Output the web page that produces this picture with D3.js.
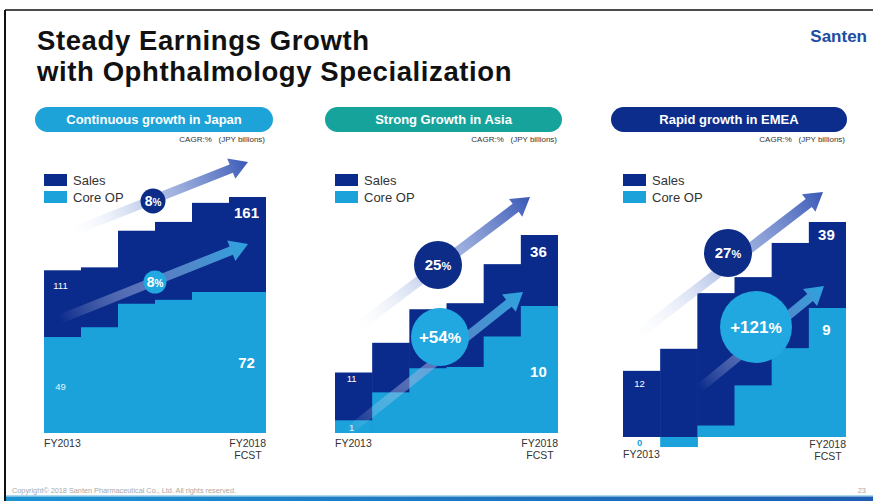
<!DOCTYPE html>
<html>
<head>
<meta charset="utf-8">
<script src="https://cdn.jsdelivr.net/npm/d3@7"></script>
<style>
    body { margin: 0; background: #fff; }
    svg { display: block; font-family: "Liberation Sans", Arial, sans-serif; }
</style>
</head>
<body>
<svg id="chart" width="873" height="501"></svg>
<script>
(function () {
    // data (JPY billions)
    const years = ["FY2013", "FY2014", "FY2015", "FY2016", "FY2017", "FY2018"];
    const panelTitles = ["Continuous growth in Japan", "Strong Growth in Asia", "Rapid growth in EMEA"];

    const salesJapan = [111, 113, 138, 144, 157, 161];
    const coreJapan = [49, 54, 66, 68, 72, 72];
    const salesAsia = [11, 16.4, 22.5, 23.6, 30.7, 36];
    const coreAsia = [1, 3.2, 5.1, 5.2, 7.6, 10];
    const salesEmea = [12, 16, 26.1, 29, 35.2, 39];
    const coreEmea = [0, -0.7, 0.8, 3.6, 6.2, 9];

    const salesCagr = ["8", "25", "27"];
    const coreCagr = ["8", "+54", "+121"];

    const COLORS = {
        sales: "#0b2b8c",
        core: "#1ba2da",
        salesArrow: "#3a59b6",
        coreArrow: "#2ba3de",
        salesCircle: "#0c2c88",
        coreCircle: "#22a8e0",
        text: "#333333"
    };

    const svg = d3.select("#chart");
    const defs = svg.append("defs");

    // frame
    svg.append("line").attr("x1", 5).attr("x2", 873).attr("y1", 10).attr("y2", 10)
        .attr("stroke", "#111").attr("stroke-width", 1.5);
    svg.append("line").attr("x1", 5).attr("x2", 5).attr("y1", 10).attr("y2", 501)
        .attr("stroke", "#111").attr("stroke-width", 2);

    // title
    const title = svg.append("text").attr("x", 37).attr("font-size", 27.5)
        .attr("letter-spacing", 0.6).attr("font-weight", "bold").attr("fill", "#111");
    title.append("tspan").attr("x", 37).attr("y", 50).text("Steady Earnings Growth");
    title.append("tspan").attr("x", 37).attr("y", 81).text("with Ophthalmology Specialization");

    // logo
    svg.append("text").attr("x", 867).attr("y", 42).attr("text-anchor", "end")
        .attr("font-family", "'Liberation Sans Narrow', 'Liberation Sans', sans-serif")
        .attr("font-weight", "bold").attr("font-size", 17).attr("fill", "#1c4d9f")
        .text("Santen");

    const panels = [
        {
            title: panelTitles[0], sales: salesJapan, core: coreJapan,
            salesCagr: salesCagr[0], coreCagr: coreCagr[0], pill: "#1ea3d8",
            pillX: [35, 273], x0: 44, x1: 266, base: 433, salesTop: 197, coreTop: 292,
            labelY: { salesFirst: 289, salesLast: 218, coreFirst: 390, coreLast: 368 },
            axisY: { first: 447, last: 447 },
            salesArrow: { from: [66, 234], to: [248, 162], w: 9 },
            coreArrow: { from: [60, 319], to: [248, 244], w: 9 },
            salesCircle: { c: [153, 201], r: 12.5, big: 14, small: 10 },
            coreCircle: { c: [155, 282], r: 11.5, big: 14, small: 10 },
            legendX: 44
        },
        {
            title: panelTitles[1], sales: salesAsia, core: coreAsia,
            salesCagr: salesCagr[1], coreCagr: coreCagr[1], pill: "#16a39c",
            pillX: [325, 562], x0: 335, x1: 558, base: 433, salesTop: 235, coreTop: 306,
            labelY: { salesFirst: 382, salesLast: 257, coreFirst: 431, coreLast: 377 },
            axisY: { first: 447, last: 447 },
            salesArrow: { from: [350, 333], to: [530, 197], w: 10 },
            coreArrow: { from: [346, 433], to: [523, 292], w: 9 },
            salesCircle: { c: [438, 265], r: 24, big: 15, small: 11 },
            coreCircle: { c: [440, 337], r: 29, big: 17, small: 15 },
            legendX: 335
        },
        {
            title: panelTitles[2], sales: salesEmea, core: coreEmea,
            salesCagr: salesCagr[2], coreCagr: coreCagr[2], pill: "#0c2d8c",
            pillX: [611, 847], x0: 623, x1: 846, base: 437, salesTop: 222, coreTop: 308,
            labelY: { salesFirst: 387, salesLast: 240, coreFirst: 446, coreLast: 335 },
            axisY: { first: 458, last: 448 },
            salesArrow: { from: [628, 342], to: [823, 192], w: 10 },
            coreArrow: { from: [700, 388], to: [824, 286], w: 9 },
            salesCircle: { c: [728, 253], r: 24, big: 15, small: 11 },
            coreCircle: { c: [756, 327], r: 36, big: 17, small: 15 },
            legendX: 623
        }
    ];

    let gradId = 0;
    function arrowGradient(color) {
        const id = "grad" + (gradId++);
        const g = defs.append("linearGradient").attr("id", id)
            .attr("x1", 0).attr("x2", 1).attr("y1", 0).attr("y2", 0);
        g.append("stop").attr("offset", 0).attr("stop-color", "#ffffff").attr("stop-opacity", 0);
        g.append("stop").attr("offset", 0.45).attr("stop-color", "#8fa5dc").attr("stop-opacity", 0.6);
        g.append("stop").attr("offset", 1).attr("stop-color", color).attr("stop-opacity", 1);
        return id;
    }

    function drawArrow(g, a, color) {
        const dx = a.to[0] - a.from[0], dy = a.to[1] - a.from[1];
        const len = Math.sqrt(dx * dx + dy * dy);
        const ang = Math.atan2(dy, dx) * 180 / Math.PI;
        const hl = 18, hw = 22, w = a.w;
        const pts = [[0, -w / 2], [len - hl, -w / 2], [len - hl, -hw / 2], [len, 0],
            [len - hl, hw / 2], [len - hl, w / 2], [0, w / 2]];
        g.append("g")
            .attr("transform", `translate(${a.from[0]},${a.from[1]}) rotate(${ang})`)
            .append("polygon")
            .attr("points", pts.map(p => p.join(",")).join(" "))
            .attr("fill", `url(#${arrowGradient(color)})`);
    }

    function drawCircle(g, c, fill, value) {
        g.append("circle").attr("cx", c.c[0]).attr("cy", c.c[1]).attr("r", c.r).attr("fill", fill);
        const t = g.append("text").attr("x", c.c[0]).attr("y", c.c[1] + c.big * 0.36)
            .attr("text-anchor", "middle").attr("fill", "#fff").attr("font-weight", "bold");
        t.append("tspan").attr("font-size", c.big).text(value);
        t.append("tspan").attr("font-size", c.small).text("%");
    }

    function drawPanel(p) {
        const g = svg.append("g");

        // header pill
        g.append("rect").attr("x", p.pillX[0]).attr("y", 107)
            .attr("width", p.pillX[1] - p.pillX[0]).attr("height", 25).attr("rx", 12.5)
            .attr("fill", p.pill);
        g.append("text").attr("x", (p.pillX[0] + p.pillX[1]) / 2).attr("y", 124)
            .attr("text-anchor", "middle").attr("font-size", 13).attr("font-weight", "bold")
            .attr("fill", "#fff").text(p.title);
        g.append("text").attr("x", p.x1 - 1).attr("y", 142).attr("text-anchor", "end")
            .attr("font-size", 8).attr("fill", COLORS.text)
            .text("CAGR:%\u00a0\u00a0\u00a0(JPY billions)");

        const x = d3.scaleBand().domain(years).range([p.x0, p.x1]).paddingInner(0).paddingOuter(0);
        const ySales = d3.scaleLinear()
            .domain([0, d3.max(p.sales)]).range([p.base, p.salesTop]);
        const yCore = d3.scaleLinear()
            .domain([0, d3.max(p.core)]).range([p.base, p.coreTop]);

        g.append("g").selectAll("rect").data(p.sales).join("rect")
            .attr("x", (d, i) => x(years[i]))
            .attr("width", (d, i) => x.bandwidth() + (i < years.length - 1 ? 0.6 : 0))
            .attr("y", d => ySales(d))
            .attr("height", d => ySales(0) - ySales(d))
            .attr("fill", COLORS.sales);

        g.append("g").selectAll("rect").data(p.core).join("rect")
            .attr("x", (d, i) => x(years[i]))
            .attr("width", (d, i) => x.bandwidth() + (i < years.length - 1 ? 0.6 : 0))
            .attr("y", d => Math.min(yCore(d), yCore(0)))
            .attr("height", d => Math.abs(yCore(0) - yCore(d)))
            .attr("fill", COLORS.core);

        // value labels, first and last year
        const cx0 = x(years[0]) + x.bandwidth() / 2 - 2;
        const cx5 = x(years[5]) + x.bandwidth() / 2 - 1;
        const last = p.sales.length - 1;
        g.append("text").attr("x", cx0).attr("y", p.labelY.salesFirst).attr("text-anchor", "middle")
            .attr("font-size", 9.5).attr("fill", "#fff").text(p.sales[0]);
        g.append("text").attr("x", cx0).attr("y", p.labelY.coreFirst).attr("text-anchor", "middle")
            .attr("font-size", 9.5)
            .attr("fill", p.core[0] === 0 ? COLORS.core : "#e6f4fb")
            .attr("font-weight", p.core[0] === 0 ? "bold" : "normal")
            .text(p.core[0]);
        g.append("text").attr("x", cx5).attr("y", p.labelY.salesLast).attr("text-anchor", "middle")
            .attr("font-size", 15).attr("font-weight", "bold").attr("fill", "#fff").text(p.sales[last]);
        g.append("text").attr("x", cx5).attr("y", p.labelY.coreLast).attr("text-anchor", "middle")
            .attr("font-size", 15).attr("font-weight", "bold").attr("fill", "#fff").text(p.core[last]);

        // year labels
        g.append("text").attr("x", p.x0).attr("y", p.axisY.first).attr("font-size", 10.5)
            .attr("fill", COLORS.text).text(years[0]);
        g.append("text").attr("x", p.x1).attr("y", p.axisY.last).attr("text-anchor", "end")
            .attr("font-size", 10.5).attr("fill", COLORS.text).text(years[5]);
        g.append("text").attr("x", p.x1 - 18).attr("y", p.axisY.last + 12).attr("text-anchor", "middle")
            .attr("font-size", 10.5).attr("fill", COLORS.text).text("FCST");

        // legend
        const lg = g.append("g").attr("transform", `translate(${p.legendX},174)`);
        [["Sales", COLORS.sales], ["Core OP", COLORS.core]].forEach((d, i) => {
            lg.append("rect").attr("x", 0).attr("y", i * 17).attr("width", 23).attr("height", 12).attr("fill", d[1]);
            lg.append("text").attr("x", 29).attr("y", i * 17 + 11).attr("font-size", 13)
                .attr("fill", COLORS.text).text(d[0]);
        });

        // CAGR arrows and badges
        drawArrow(g, p.salesArrow, COLORS.salesArrow);
        drawArrow(g, p.coreArrow, COLORS.coreArrow);
        drawCircle(g, p.salesCircle, COLORS.salesCircle, p.salesCagr);
        drawCircle(g, p.coreCircle, COLORS.coreCircle, p.coreCagr);
    }

    panels.forEach(drawPanel);

    // footer
    const fg = defs.append("linearGradient").attr("id", "footerGrad");
    fg.append("stop").attr("offset", 0).attr("stop-color", "#1d93d2");
    fg.append("stop").attr("offset", 1).attr("stop-color", "#1f5db3");
    svg.append("rect").attr("x", 6).attr("y", 495).attr("width", 867).attr("height", 1.5).attr("fill", "#a9d8f0");
    svg.append("rect").attr("x", 6).attr("y", 496.5).attr("width", 867).attr("height", 4.5).attr("fill", "url(#footerGrad)");
    svg.append("text").attr("x", 12).attr("y", 493).attr("font-size", 7.3).attr("fill", "#a8a8a8")
        .text("Copyright\u00a9 2018 Santen Pharmaceutical Co., Ltd. All rights reserved.");
    svg.append("text").attr("x", 866).attr("y", 493).attr("text-anchor", "end").attr("font-size", 7.5)
        .attr("fill", "#a8a8a8").text("23");
})();
</script>
</body>
</html>
